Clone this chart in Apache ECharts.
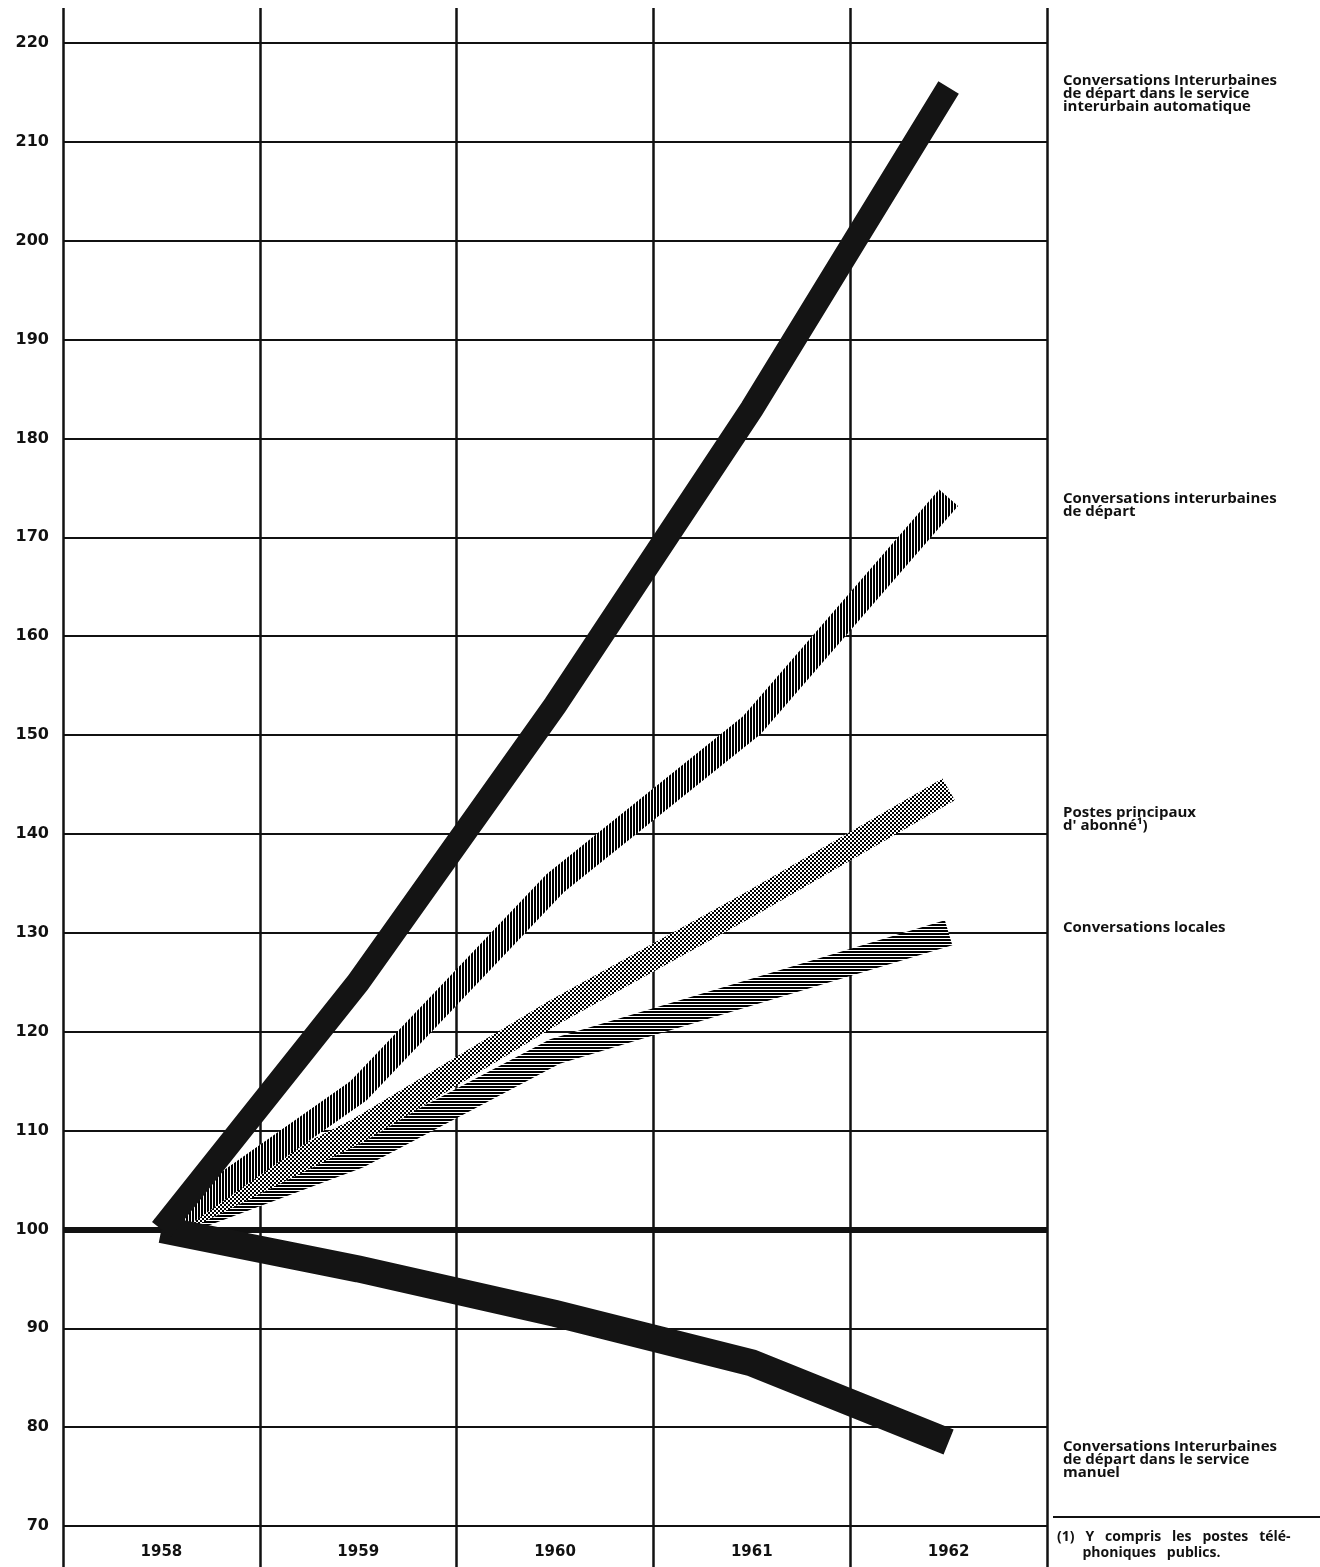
<!DOCTYPE html>
<html><head><meta charset="utf-8">
<script src="https://cdn.jsdelivr.net/npm/echarts@6/dist/echarts.min.js"></script>
<style>html,body{margin:0;padding:0;background:#fff}#c{width:1320px;height:1567px}</style>
</head><body><div id="c"></div>
<script>
const years = ['1958','1959','1960','1961','1962'];
const yTicks = [70,80,90,100,110,120,130,140,150,160,170,180,190,200,210,220];
const automatique = [100,125,153,183,215.5];
const depart = [100,114,135,151,174];
const postes = [100,110,122,133,144.5];
const locales = [100,107.5,118,124,130];
const manuel = [100,96,91.5,86.5,78.5];
const labels = [
  {name:'Conversations Interurbaines\nde départ dans le service\ninterurbain automatique', y:73},
  {name:'Conversations interurbaines\nde départ', y:491},
  {name:'Postes principaux\nd\' abonné¹)', y:805},
  {name:'Conversations locales', y:920},
  {name:'Conversations Interurbaines\nde départ dans le service\nmanuel', y:1439}
];
const footnote = '(1)   Y   compris   les   postes   télé-\n       phoniques   publics.';

function pat(w,h,draw){
  const c=document.createElement('canvas');c.width=w;c.height=h;
  const g=c.getContext('2d');g.fillStyle='#fff';g.fillRect(0,0,w,h);g.fillStyle='#000';draw(g);
  return {image:c,repeat:'repeat'};
}
const vHatch = pat(3,3,g=>{g.fillRect(0,0,2,3);});
const dots = pat(4,4,g=>{g.fillRect(0,0,2,2);g.fillRect(2,2,2,2);});
const hHatch = pat(3,3,g=>{g.fillRect(0,0,3,2);});

const chart = echarts.init(document.getElementById('c'));
const numFont = '"DejaVu Sans", sans-serif';
const txtFont = '"Open Sans", "DejaVu Sans", sans-serif';
function band(name,data,color,w,z){
  return {name,type:'line',data,xAxisIndex:0,yAxisIndex:0,symbol:'none',z,
    lineStyle:{color,width:w,cap:'butt',join:'miter'},animation:false};
}
chart.setOption({
  animation:false,
  grid:[
    {left:63,right:273,top:43,bottom:41},
    {left:63,right:273,top:8,bottom:0}
  ],
  xAxis:[
    {type:'category',data:years,gridIndex:0,boundaryGap:true,
     axisLine:{show:false},axisTick:{show:false},splitLine:{show:false},
     axisLabel:{margin:19,color:'#111',fontSize:15,fontWeight:'bold',fontFamily:numFont}},
    {type:'category',data:years,gridIndex:1,boundaryGap:true,
     axisLine:{show:false},axisTick:{show:false},axisLabel:{show:false},
     splitLine:{show:true,interval:0,lineStyle:{color:'#111',width:2.5}}}
  ],
  yAxis:[
    {type:'value',gridIndex:0,min:70,max:220,interval:10,
     axisLine:{show:false},axisTick:{show:false},
     axisLabel:{margin:14,color:'#111',fontSize:16,fontWeight:'bold',fontFamily:numFont},
     splitLine:{show:true,lineStyle:{color:'#111',width:2}}},
    {type:'value',gridIndex:1,show:false,min:0,max:1}
  ],
  series:[
    {type:'line',data:[],xAxisIndex:0,yAxisIndex:0,z:1,
     markLine:{symbol:'none',silent:true,label:{show:false},
       lineStyle:{color:'#111',width:6,type:'solid'},data:[{yAxis:100}]}},
    band('Conversations locales',locales,hHatch,26,2),
    band('Postes principaux',postes,dots,25,3),
    band('Conversations interurbaines de départ',depart,vHatch,25,4),
    band('Manuel',manuel,'#141414',27,5),
    band('Automatique',automatique,'#141414',24,6)
  ],
  graphic: labels.map(l=>({type:'text',left:1063,top:l.y,
      style:{text:l.name,font:'bold 15px '+txtFont,fill:'#111',lineHeight:13}}))
    .concat([
      {type:'line',shape:{x1:1053,y1:1517,x2:1320,y2:1517},style:{stroke:'#111',lineWidth:2}},
      {type:'text',left:1057,top:1529,style:{text:footnote,font:'bold 14px '+txtFont,fill:'#111',lineHeight:16}}
    ])
});
</script></body></html>
